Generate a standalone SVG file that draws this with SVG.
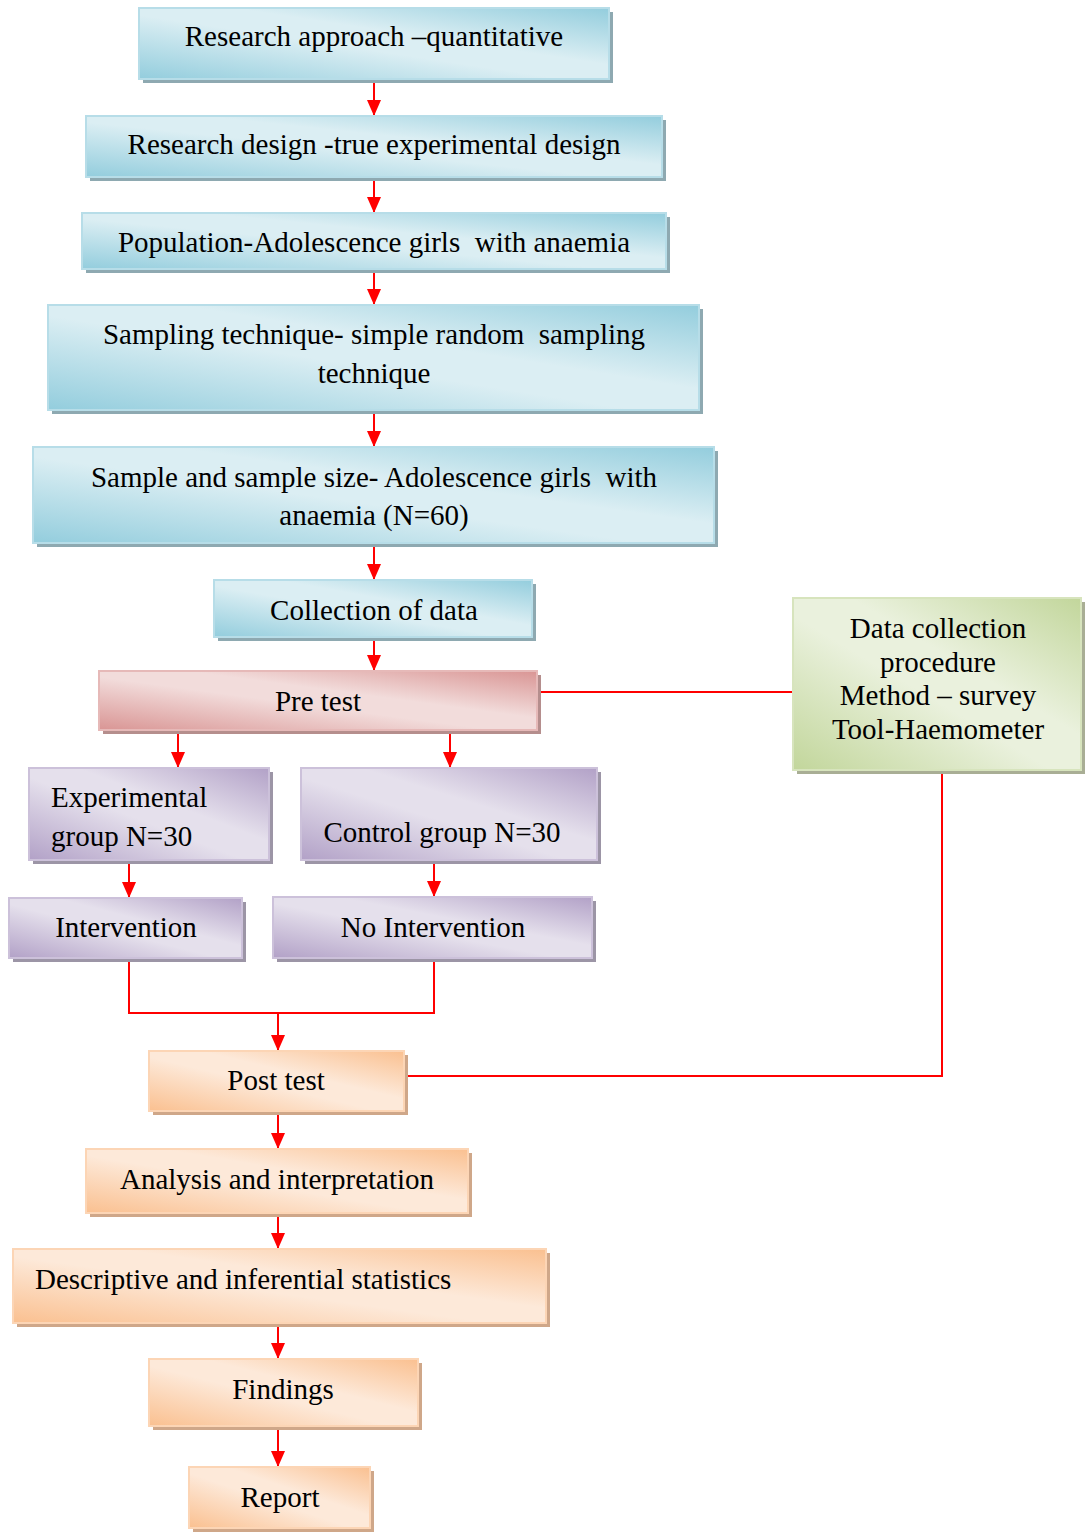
<svg xmlns="http://www.w3.org/2000/svg" width="1087" height="1532" viewBox="0 0 1087 1532">
<style>
text{font-family:"Liberation Serif","Times New Roman",serif;font-size:29px;fill:#000}
.c{text-anchor:middle}
.blue{fill:url(#gBlue);stroke:#b7dde8;stroke-width:2}
.red{fill:url(#gRed);stroke:#e6b9b8;stroke-width:2}
.green{fill:url(#gGreen);stroke:#d7e4bd;stroke-width:2}
.purple{fill:url(#gPurple);stroke:#ccc1da;stroke-width:2}
.orange{fill:url(#gOrange);stroke:#fcd5b5;stroke-width:2}
.sb{fill:#8ea9b1}.sr{fill:#b58e8d}.sg{fill:#a9ae95}.sp{fill:#9c95a6}.so{fill:#cfa789}
.ln{fill:none;stroke:#ff0000;stroke-width:2}
</style>
<defs>
<linearGradient id="gBlue" x1="0" y1="1" x2="1" y2="0"><stop offset="0" stop-color="#93cddd"/><stop offset="0.45" stop-color="#dbeef3"/><stop offset="0.6" stop-color="#dbeef3"/><stop offset="1" stop-color="#93cddd"/></linearGradient>
<linearGradient id="gRed" x1="0" y1="1" x2="1" y2="0"><stop offset="0" stop-color="#d99594"/><stop offset="0.45" stop-color="#f2dcdb"/><stop offset="0.6" stop-color="#f2dcdb"/><stop offset="1" stop-color="#d99594"/></linearGradient>
<linearGradient id="gGreen" x1="0" y1="1" x2="1" y2="0"><stop offset="0" stop-color="#c2d69b"/><stop offset="0.45" stop-color="#eaf1dd"/><stop offset="0.6" stop-color="#eaf1dd"/><stop offset="1" stop-color="#c2d69b"/></linearGradient>
<linearGradient id="gPurple" x1="0" y1="1" x2="1" y2="0"><stop offset="0" stop-color="#b2a1c7"/><stop offset="0.45" stop-color="#e5e0ec"/><stop offset="0.6" stop-color="#e5e0ec"/><stop offset="1" stop-color="#b2a1c7"/></linearGradient>
<linearGradient id="gOrange" x1="0" y1="1" x2="1" y2="0"><stop offset="0" stop-color="#fac090"/><stop offset="0.45" stop-color="#fde9d9"/><stop offset="0.6" stop-color="#fde9d9"/><stop offset="1" stop-color="#fac090"/></linearGradient>
<marker id="ah" viewBox="0 0 16 16" refX="16" refY="8" markerWidth="16" markerHeight="16" markerUnits="userSpaceOnUse" orient="auto"><path d="M0,1 L16,8 L0,15 Z" fill="#ff0000"/></marker>
</defs>

<g id="connectors">
<line class="ln" x1="374" y1="80" x2="374" y2="116" marker-end="url(#ah)"/>
<line class="ln" x1="374" y1="178" x2="374" y2="213" marker-end="url(#ah)"/>
<line class="ln" x1="374" y1="270" x2="374" y2="305" marker-end="url(#ah)"/>
<line class="ln" x1="374" y1="411" x2="374" y2="447" marker-end="url(#ah)"/>
<line class="ln" x1="374" y1="544" x2="374" y2="580" marker-end="url(#ah)"/>
<line class="ln" x1="374" y1="638" x2="374" y2="671" marker-end="url(#ah)"/>
<line class="ln" x1="178" y1="731" x2="178" y2="768" marker-end="url(#ah)"/>
<line class="ln" x1="450" y1="731" x2="450" y2="768" marker-end="url(#ah)"/>
<line class="ln" x1="129" y1="861" x2="129" y2="898" marker-end="url(#ah)"/>
<line class="ln" x1="434" y1="861" x2="434" y2="897" marker-end="url(#ah)"/>
<polyline class="ln" points="129,959 129,1013 434,1013 434,959"/>
<line class="ln" x1="278" y1="1013" x2="278" y2="1051" marker-end="url(#ah)"/>
<line class="ln" x1="278" y1="1112" x2="278" y2="1149" marker-end="url(#ah)"/>
<line class="ln" x1="278" y1="1214" x2="278" y2="1249" marker-end="url(#ah)"/>
<line class="ln" x1="278" y1="1324" x2="278" y2="1359" marker-end="url(#ah)"/>
<line class="ln" x1="278" y1="1427" x2="278" y2="1467" marker-end="url(#ah)"/>
<line class="ln" x1="538" y1="692" x2="793" y2="692"/>
<polyline class="ln" points="942,771 942,1076 405,1076"/>
</g>

<g id="n1"><rect class="sb" x="143" y="12" width="470" height="71"/><rect class="blue" x="139" y="8" width="470" height="71"/><text class="c" x="374" y="46">Research approach –quantitative</text></g>
<g id="n2"><rect class="sb" x="90" y="120" width="576" height="61"/><rect class="blue" x="86" y="116" width="576" height="61"/><text class="c" x="374" y="154">Research design -true experimental design</text></g>
<g id="n3"><rect class="sb" x="86" y="217" width="584" height="56"/><rect class="blue" x="82" y="213" width="584" height="56"/><text class="c" x="374" y="252" xml:space="preserve">Population-Adolescence girls  with anaemia</text></g>
<g id="n4"><rect class="sb" x="52" y="309" width="651" height="105"/><rect class="blue" x="48" y="305" width="651" height="105"/><text class="c" x="374" y="344" xml:space="preserve">Sampling technique- simple random  sampling</text><text class="c" x="374" y="383">technique</text></g>
<g id="n5"><rect class="sb" x="37" y="451" width="681" height="96"/><rect class="blue" x="33" y="447" width="681" height="96"/><text class="c" x="374" y="487" xml:space="preserve">Sample and sample size- Adolescence girls  with</text><text class="c" x="374" y="525">anaemia (N=60)</text></g>
<g id="n6"><rect class="sb" x="218" y="584" width="318" height="57"/><rect class="blue" x="214" y="580" width="318" height="57"/><text class="c" x="374" y="620">Collection of data</text></g>
<g id="n7"><rect class="sr" x="103" y="675" width="438" height="59"/><rect class="red" x="99" y="671" width="438" height="59"/><text class="c" x="318" y="711">Pre test</text></g>
<g id="n8"><rect class="sg" x="797" y="602" width="288" height="172"/><rect class="green" x="793" y="598" width="288" height="172"/><text class="c" x="938" y="638">Data collection</text><text class="c" x="938" y="672">procedure</text><text class="c" x="938" y="705">Method – survey</text><text class="c" x="938" y="739">Tool-Haemometer</text></g>
<g id="n9"><rect class="sp" x="33" y="772" width="240" height="92"/><rect class="purple" x="29" y="768" width="240" height="92"/><text x="51" y="807">Experimental</text><text x="51" y="846">group N=30</text></g>
<g id="n10"><rect class="sp" x="305" y="772" width="296" height="92"/><rect class="purple" x="301" y="768" width="296" height="92"/><text class="c" x="442" y="842">Control group N=30</text></g>
<g id="n11"><rect class="sp" x="13" y="902" width="233" height="60"/><rect class="purple" x="9" y="898" width="233" height="60"/><text class="c" x="126" y="937">Intervention</text></g>
<g id="n12"><rect class="sp" x="277" y="901" width="319" height="61"/><rect class="purple" x="273" y="897" width="319" height="61"/><text class="c" x="433" y="937">No Intervention</text></g>
<g id="n13"><rect class="so" x="153" y="1055" width="255" height="60"/><rect class="orange" x="149" y="1051" width="255" height="60"/><text class="c" x="276" y="1090">Post test</text></g>
<g id="n14"><rect class="so" x="90" y="1153" width="382" height="64"/><rect class="orange" x="86" y="1149" width="382" height="64"/><text class="c" x="277" y="1189">Analysis and interpretation</text></g>
<g id="n15"><rect class="so" x="17" y="1253" width="533" height="74"/><rect class="orange" x="13" y="1249" width="533" height="74"/><text x="35" y="1289">Descriptive and inferential statistics</text></g>
<g id="n16"><rect class="so" x="153" y="1363" width="269" height="67"/><rect class="orange" x="149" y="1359" width="269" height="67"/><text class="c" x="283" y="1399">Findings</text></g>
<g id="n17"><rect class="so" x="193" y="1471" width="181" height="61"/><rect class="orange" x="189" y="1467" width="181" height="61"/><text class="c" x="280" y="1507">Report</text></g>
</svg>
